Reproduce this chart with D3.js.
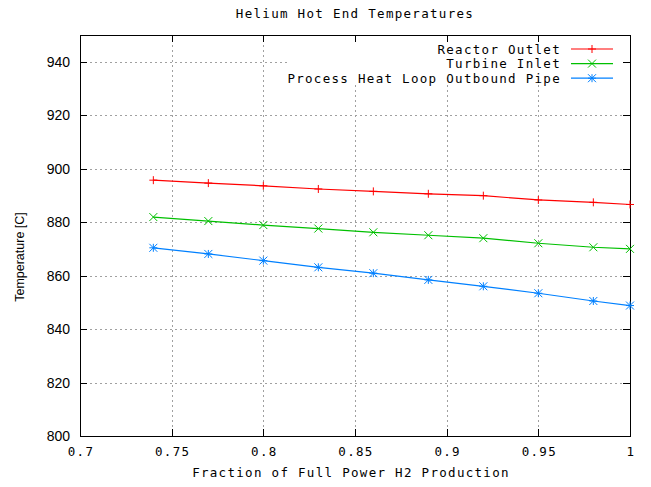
<!DOCTYPE html>
<html>
<head>
<meta charset="utf-8">
<script src="https://cdn.jsdelivr.net/npm/d3@7"></script>
<style>
  body { margin: 0; background: #fff; }
  .mono { font-family: "DejaVu Sans Mono", monospace; font-size: 12.5px; letter-spacing: 1.3px; }
  .sans { font-family: "Liberation Sans", Arial, sans-serif; }
</style>
</head>
<body>
<svg id="chart"></svg>
<script>
// data
const fraction = [0.74, 0.77, 0.80, 0.83, 0.86, 0.89, 0.92, 0.95, 0.98, 1.0];
const reactorOutlet = [895.7, 894.6, 893.6, 892.4, 891.5, 890.6, 889.9, 888.3, 887.4, 886.6];
const turbineInlet = [881.9, 880.4, 878.9, 877.6, 876.2, 875.1, 874.0, 872.1, 870.6, 870.0];
const processPipe = [870.4, 868.1, 865.6, 863.1, 860.9, 858.4, 856.0, 853.4, 850.5, 848.8];
const seriesNames = ["Reactor Outlet", "Turbine Inlet", "Process Heat Loop Outbound Pipe"];
const xTicks = [0.7, 0.75, 0.8, 0.85, 0.9, 0.95, 1];
const yTicks = [800, 820, 840, 860, 880, 900, 920, 940];

const width = 651, height = 487;
const plot = { left: 80, right: 630, top: 35, bottom: 436 };
const tickLen = 7;

const svg = d3.select("#chart").attr("width", width).attr("height", height);

const x = d3.scaleLinear().domain([0.7, 1]).range([plot.left, plot.right]);
const y = d3.scaleLinear().domain([800, 950]).range([plot.bottom, plot.top]);

const series = [
  { name: seriesNames[0], values: reactorOutlet, color: "#ff0000", mark: "plus" },
  { name: seriesNames[1], values: turbineInlet, color: "#00c000", mark: "cross" },
  { name: seriesNames[2], values: processPipe, color: "#0080ff", mark: "star" },
];

// grid
const grid = svg.append("g").attr("stroke", "#a0a0a0").attr("stroke-dasharray", "2,3").attr("stroke-width", 1);
grid.selectAll(".vgrid")
  .data(xTicks.slice(1, -1))
  .enter()
  .append("line")
  .attr("x1", d => Math.round(x(d)) + 0.5)
  .attr("x2", d => Math.round(x(d)) + 0.5)
  .attr("y1", plot.top)
  .attr("y2", plot.bottom);
grid.selectAll(".hgrid")
  .data(yTicks.slice(1))
  .enter()
  .append("line")
  .attr("x1", plot.left)
  .attr("x2", plot.right)
  .attr("y1", d => Math.round(y(d)) + 0.5)
  .attr("y2", d => Math.round(y(d)) + 0.5);

// legend background hides the grid behind the key
svg.append("rect")
  .attr("x", 289).attr("y", plot.top + 1)
  .attr("width", 338).attr("height", 49)
  .attr("fill", "#fff");

// axes with inward ticks, mirrored
const frame = svg.append("g").attr("stroke", "#000").attr("stroke-width", 1);
frame.append("rect")
  .attr("x", plot.left + 0.5).attr("y", plot.top + 0.5)
  .attr("width", plot.right - plot.left).attr("height", plot.bottom - plot.top)
  .attr("fill", "none");

xTicks.slice(1, -1).forEach(function (d) {
  var px = Math.round(x(d)) + 0.5;
  frame.append("line").attr("x1", px).attr("x2", px).attr("y1", plot.bottom).attr("y2", plot.bottom - tickLen);
  frame.append("line").attr("x1", px).attr("x2", px).attr("y1", plot.top).attr("y2", plot.top + tickLen);
});
yTicks.slice(1).forEach(function (d) {
  var py = Math.round(y(d)) + 0.5;
  frame.append("line").attr("x1", plot.left).attr("x2", plot.left + tickLen).attr("y1", py).attr("y2", py);
  frame.append("line").attr("x1", plot.right).attr("x2", plot.right - tickLen).attr("y1", py).attr("y2", py);
});

// tick labels
svg.append("g").selectAll("text")
  .data(xTicks)
  .enter()
  .append("text")
  .attr("class", "mono")
  .attr("text-anchor", "middle")
  .attr("x", d => x(d) + 1)
  .attr("y", 456)
  .text(d => d);

svg.append("g").selectAll("text")
  .data(yTicks)
  .enter()
  .append("text")
  .attr("class", "sans")
  .attr("font-size", "14px")
  .attr("text-anchor", "end")
  .attr("x", 70)
  .attr("y", d => y(d) + 5)
  .text(d => d);

// titles
svg.append("text").attr("class", "mono").attr("text-anchor", "middle")
  .attr("x", 355).attr("y", 18).text("Helium Hot End Temperatures");
svg.append("text").attr("class", "mono").attr("text-anchor", "middle")
  .attr("x", 351).attr("y", 477).text("Fraction of Full Power H2 Production");
svg.append("text").attr("class", "sans").attr("font-size", "12.5px")
  .attr("text-anchor", "middle")
  .attr("transform", "translate(24,257) rotate(-90)")
  .text("Temperature [C]");

// point markers
function drawMark(g, type, cx, cy, color) {
  var s = 4;
  var m = g.append("g").attr("stroke", color).attr("stroke-width", 1).attr("fill", "none");
  if (type === "plus" || type === "star") {
    m.append("line").attr("x1", cx - s).attr("x2", cx + s).attr("y1", cy).attr("y2", cy);
    m.append("line").attr("x1", cx).attr("x2", cx).attr("y1", cy - s).attr("y2", cy + s);
  }
  if (type === "cross" || type === "star") {
    m.append("line").attr("x1", cx - s).attr("x2", cx + s).attr("y1", cy - s).attr("y2", cy + s);
    m.append("line").attr("x1", cx - s).attr("x2", cx + s).attr("y1", cy + s).attr("y2", cy - s);
  }
}

var line = d3.line()
  .x(d => x(d[0]))
  .y(d => y(d[1]));

series.forEach(function (s) {
  var pts = fraction.map((f, i) => [f, s.values[i]]);
  var g = svg.append("g");
  g.append("path")
    .attr("d", line(pts))
    .attr("fill", "none")
    .attr("stroke", s.color)
    .attr("stroke-width", 1.2);
  pts.forEach(function (p) {
    drawMark(g, s.mark, x(p[0]), y(p[1]), s.color);
  });
});

// legend
series.forEach(function (s, i) {
  var ly = 49 + i * 14.6;
  svg.append("text").attr("class", "mono").attr("text-anchor", "end")
    .attr("x", 561).attr("y", ly + 4.5).text(s.name);
  svg.append("line")
    .attr("x1", 571).attr("x2", 613).attr("y1", ly).attr("y2", ly)
    .attr("stroke", s.color).attr("stroke-width", 1.2);
  drawMark(svg, s.mark, 592, ly, s.color);
});
</script>
</body>
</html>
